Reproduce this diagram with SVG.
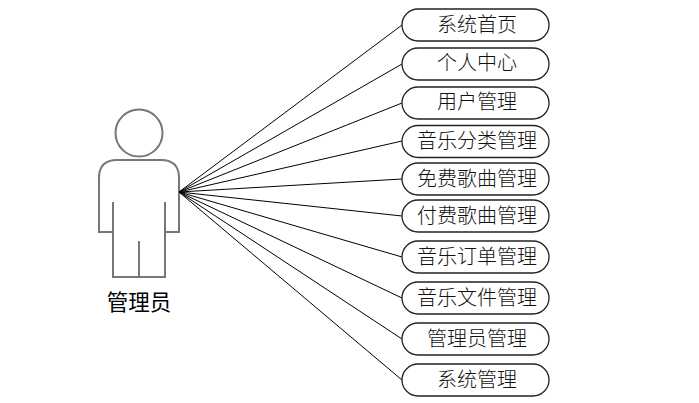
<svg xmlns="http://www.w3.org/2000/svg" width="699" height="403" viewBox="0 0 699 403">
<style>
.pill{fill:#fff;stroke:#222;stroke-width:1.3}
.t{font-family:"Noto Sans CJK SC","Noto Sans CJK JP",sans-serif;font-size:20px;fill:#111;text-anchor:middle;font-weight:300}
.a{fill:none;stroke:#777;stroke-width:2}
.c{fill:none;stroke:#000;stroke-width:1}
</style>
<rect width="699" height="403" fill="#fff"/>
<g id="actor">
<circle class="a" cx="139" cy="133" r="23.5"/>
<path class="a" d="M113 202V277H165V202M139 241V277M113 232H99V178Q99 160 117 160H161Q179 160 179 178V232H165"/>
<text x="139" y="310" style="font-family:'Noto Sans CJK SC',sans-serif;font-size:21.500px;fill:#000;text-anchor:middle">管理员</text>
</g>
<g id="connectors">
<path class="c" d="M179 192L402 25M179 192L402 64M179 192L402 103M179 192L402 141M179 192L402 179M179 192L402 216M179 192L402 257M179 192L402 298M179 192L402 339M179 192L402 380"/>
</g>
<g id="n1"><rect class="pill" x="402" y="9" width="147" height="32" rx="16"/><text class="t" x="477" y="32">系统首页</text></g>
<g id="n2"><rect class="pill" x="402" y="48" width="147" height="32" rx="16"/><text class="t" x="477" y="70">个人中心</text></g>
<g id="n3"><rect class="pill" x="402" y="87" width="147" height="32" rx="16"/><text class="t" x="477" y="109">用户管理</text></g>
<g id="n4"><rect class="pill" x="402" y="125.500" width="147" height="32" rx="16"/><text class="t" x="477" y="148">音乐分类管理</text></g>
<g id="n5"><rect class="pill" x="402" y="163" width="147" height="32" rx="16"/><text class="t" x="477" y="186">免费歌曲管理</text></g>
<g id="n6"><rect class="pill" x="402" y="200" width="147" height="32" rx="16"/><text class="t" x="477" y="223">付费歌曲管理</text></g>
<g id="n7"><rect class="pill" x="402" y="241" width="147" height="32" rx="16"/><text class="t" x="477" y="264">音乐订单管理</text></g>
<g id="n8"><rect class="pill" x="402" y="282" width="147" height="32" rx="16"/><text class="t" x="477" y="305">音乐文件管理</text></g>
<g id="n9"><rect class="pill" x="402" y="323" width="147" height="32" rx="16"/><text class="t" x="477" y="346">管理员管理</text></g>
<g id="n10"><rect class="pill" x="402" y="364" width="147" height="32" rx="16"/><text class="t" x="477" y="387">系统管理</text></g>
</svg>
